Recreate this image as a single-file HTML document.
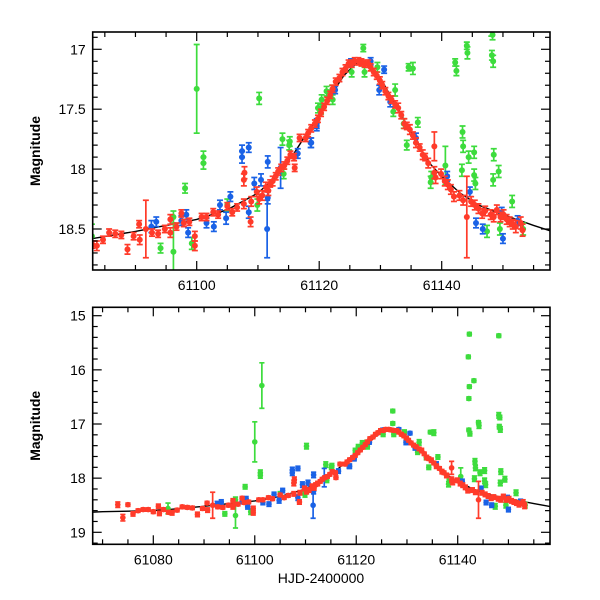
<!DOCTYPE html>
<html><head><meta charset="utf-8"><style>
html,body{margin:0;padding:0;background:#fff;width:600px;height:600px;overflow:hidden}
svg text{font-family:"Liberation Sans",sans-serif;fill:#000}
</style></head><body>
<svg id="chart" width="600" height="600" viewBox="0 0 600 600" xmlns="http://www.w3.org/2000/svg"></svg>
<script>
// ---- data ----
const modelT = [61065,61070,61075,61080,61083,61090,61095,61100,61105,61110,61113,61116,61118,61120,61122,61124,61126,61127,61128,61130,61132,61134,61136,61138,61140,61143,61146,61150,61155,61158,61162];
const modelM = [18.64,18.62,18.61,18.6,18.58,18.52,18.47,18.42,18.34,18.2,18.06,17.86,17.7,17.56,17.38,17.22,17.12,17.1,17.12,17.24,17.42,17.6,17.78,17.95,18.06,18.2,18.3,18.38,18.47,18.52,18.56];

const redT = [61073,61074,61075,61076,61077,61078,61079,61080,61081,61081.2,61082,61083,61083.7,61084.7,61085.7,61086.7,61087.7,61088.7,61089.7,61090.6,61090.7,61091.7,61092.7,61093.7,61094.8,61095.7,61095.7,61096.7,61097.5,61097.9,61098.8,61099.7,61099.7,61100.8,61101.6,61102.7,61103.5,61105,61105.8,61106.6,61107.7,61107.8,61107.7,61108.9,61108.8,61109.8,61110.7,61111.3,61112,61112.9,61113.8,61114.8,61115.9,61116,61116.8,61117.8,61118.7,61119.8,61120.8,61121.8,61122.7,61123.8,61124.8,61125.8,61126.9,61128,61128.9,61129.9,61130.8,61131.8,61132.9,61133.9,61134.8,61135.8,61136.9,61137.8,61138.8,61138.8,61139,61139.9,61141,61142,61142.9,61144.1,61144.8,61146,61147.1,61148,61149,61150.1,61151.1,61152.1,61152.9,61153.2,61118.2,61119.3,61120.3,61121.3,61122.2,61123.3,61124.3,61125.3,61126.4,61127.5,61128.4,61129.4,61130.3,61131.3,61132.4,61133.4,61134.3,61135.3,61136.4,61137.3,61140.5,61141.5,61143.5,61145.4,61146.6,61148.5,61149.6,61150.6,61151.6,61110.2,61111.7,61112.4,61113.3,61114.3,61115.3];
const redM = [18.49,18.73,18.49,18.66,18.6,18.58,18.58,18.62,18.52,18.65,18.58,18.63,18.64,18.59,18.53,18.54,18.55,18.67,18.56,18.46,18.59,18.5,18.53,18.54,18.5,18.42,18.53,18.48,18.37,18.45,18.44,18.56,18.64,18.4,18.4,18.36,18.38,18.31,18.36,18.32,18.29,18.03,18.09,18.27,18.44,18.19,18.22,18.15,18.12,18.06,17.99,17.93,17.9,17.99,17.74,17.74,17.66,17.58,17.48,17.38,17.27,17.19,17.12,17.1,17.11,17.12,17.19,17.26,17.35,17.42,17.49,17.62,17.67,17.78,17.88,17.95,17.81,18.03,18.07,18.04,18.13,18.23,18.22,18.4,18.27,18.33,18.35,18.38,18.34,18.38,18.44,18.48,18.45,18.51,17.7,17.62,17.53,17.43,17.33,17.24,17.16,17.12,17.1,17.12,17.15,17.22,17.3,17.39,17.46,17.55,17.64,17.72,17.82,17.9,18.1,18.17,18.26,18.3,18.37,18.4,18.4,18.42,18.46,18.25,18.18,18.1,18.02,17.97,17.88];
const redE = [0.05,0.06,0.03,0.04,0.03,0.03,0.03,0.03,0.04,0.04,0.03,0.03,0.04,0.03,0.03,0.03,0.03,0.04,0.03,0.03,0.04,0.24,0.03,0.03,0.03,0.04,0.04,0.03,0.03,0.03,0.03,0.04,0.04,0.03,0.03,0.03,0.03,0.03,0.03,0.03,0.04,0.05,0.05,0.04,0.04,0.04,0.04,0.04,0.03,0.03,0.03,0.03,0.03,0.03,0.03,0.03,0.03,0.03,0.03,0.03,0.03,0.03,0.03,0.03,0.03,0.03,0.03,0.03,0.03,0.03,0.04,0.04,0.04,0.04,0.04,0.04,0.12,0.05,0.05,0.04,0.04,0.04,0.04,0.34,0.04,0.04,0.04,0.04,0.04,0.04,0.04,0.05,0.05,0.05,0.03,0.03,0.03,0.03,0.03,0.03,0.03,0.03,0.03,0.03,0.03,0.03,0.03,0.03,0.03,0.03,0.03,0.03,0.03,0.03,0.04,0.04,0.04,0.04,0.04,0.04,0.04,0.04,0.04,0.04,0.04,0.04,0.03,0.03,0.03];

const blueT = [61092.6,61093.4,61097.5,61098.3,61098.6,61101.6,61102.8,61103.8,61104.8,61105.5,61107.4,61107.4,61108.5,61108.5,61109.4,61110.5,61111.6,61111.5,61111.6,61113.7,61116.5,61118.6,61119.6,61118.7,61119.6,61122.6,61125.2,61128.4,61129.8,61130.6,61131.6,61135.8,61140.9,61144.6,61145.6,61146.7,61149.8,61150,61152.4];
const blueM = [18.48,18.44,18.43,18.38,18.53,18.45,18.48,18.3,18.41,18.23,17.85,17.9,17.82,18.36,18.12,18.09,17.94,18.5,18.24,17.99,17.87,17.78,17.64,17.78,17.62,17.34,17.11,17.1,17.34,17.17,17.44,17.74,18.06,18.19,18.45,18.5,18.36,18.58,18.43];
const blueE = [0.05,0.04,0.04,0.04,0.04,0.04,0.04,0.04,0.05,0.04,0.05,0.05,0.04,0.05,0.05,0.05,0.05,0.24,0.05,0.17,0.04,0.04,0.04,0.04,0.04,0.03,0.03,0.03,0.04,0.03,0.04,0.04,0.04,0.04,0.04,0.04,0.04,0.04,0.04];

const greenT = [61082.9,61094.1,61096.2,61096.2,61098.1,61099.2,61100,61101.1,61101.1,61101.4,61105,61110.2,61109.9,61114,61115.1,61115.2,61114.2,61119.8,61120.4,61122.1,61120.3,61121.2,61122.2,61125.3,61127.2,61127.4,61129.5,61132.4,61132.1,61133.8,61134.3,61135.3,61136.1,61138.3,61138.2,61140.6,61142.4,61143.4,61143.5,61144.4,61143.3,61144.2,61145.3,61145.3,61145.5,61147.4,61148.3,61148.4,61148.5,61148.4,61149.3,61149.5,61151.5,61153.3,61142.3,61142.1,61142.3,61143.2,61142.2,61148.1,61148.1,61148.2,61144.1,61142.2,61127.2,61134.6];
const greenM = [18.56,18.66,18.69,18.4,18.16,18.62,17.33,17.9,17.95,16.29,18.3,17.41,18.3,17.75,17.8,17.77,18.04,17.49,17.42,17.34,17.5,17.35,17.42,17.19,16.99,17.19,17.15,17.34,17.52,17.62,17.8,17.16,17.61,18.07,18.11,17.97,17.18,17.69,17.81,17.9,18.01,17.03,17.86,18.05,18.12,18.52,16.88,17.1,17.88,18.09,18.02,18.5,18.27,18.5,15.34,15.76,16.31,16.2,16.53,15.37,16.84,17.05,16.97,17.11,16.76,17.15];
const greenE = [0.1,0.04,0.23,0.05,0.04,0.05,0.37,0.05,0.05,0.42,0.05,0.05,0.05,0.05,0.04,0.04,0.04,0.04,0.04,0.04,0.04,0.04,0.04,0.04,0.03,0.04,0.04,0.05,0.04,0.04,0.04,0.05,0.04,0.05,0.05,0.16,0.04,0.05,0.05,0.05,0.05,0.05,0.05,0.05,0.05,0.05,0.04,0.05,0.05,0.05,0.05,0.05,0.05,0.05,0.03,0.03,0.03,0.03,0.03,0.03,0.05,0.04,0.03,0.03,0.03,0.03];

const topXTicks = [61100,61120,61140];
const topYTicks = [17,17.5,18,18.5];
const botXTicks = [61080,61100,61120,61140];
const botYTicks = [15,16,17,18,19];

const NS = "http://www.w3.org/2000/svg";
const svg = document.getElementById('chart');
function mk(tag, attrs, parent){const e=document.createElementNS(NS,tag);for(const k in attrs)e.setAttribute(k,attrs[k]);(parent||svg).appendChild(e);return e;}

const panels = [
 {name:'top', x0:92.7,x1:550,y0:32,y1:270, t0:61082.8,t1:61157.9, ta:61100,xa:196.7,tb:61140,xb:441.7, ma:17,ya:49.3,mb:18.5,yb:229,
  xt:topXTicks, yt:topYTicks, xminor:5, yminor:0.1, r:3, cap:3},
 {name:'bottom', x0:92.7,x1:550,y0:307.3,y1:544.3, t0:61068,t1:61158.2, ta:61080,xa:153.3,tb:61140,xb:457.7, ma:15,ya:315.7,mb:19,yb:532.3,
  xt:botXTicks, yt:botYTicks, xminor:5, yminor:0.2, r:2.8, cap:2.6}
];

const colors = {green:'#3ddc3d', blue:'#1a62e6', red:'#ff3b2a'};

panels.forEach((p,pi)=>{
  const X = t => p.xa + (t-p.ta)*(p.xb-p.xa)/(p.tb-p.ta);
  const Y = m => p.ya + (m-p.ma)*(p.yb-p.ya)/(p.mb-p.ma);
  const mLo = p.ma + (p.y0-p.ya)*(p.mb-p.ma)/(p.yb-p.ya);
  const mHi = p.ma + (p.y1-p.ya)*(p.mb-p.ma)/(p.yb-p.ya);
  const g = mk('g',{});
  
  
  const cp = mk('clipPath',{id:'clip'+pi}, g);
  mk('rect',{x:p.x0,y:p.y0,width:p.x1-p.x0,height:p.y1-p.y0}, cp);
  const plot = mk('g',{'clip-path':'url(#clip'+pi+')'}, g);
  
  

  let d='';
  modelT.forEach((t,i)=>{d+=(i?'L':'M')+X(t).toFixed(1)+','+Y(modelM[i]).toFixed(1);});
  const ml = mk('path',{d:d,fill:'none',stroke:'#000','stroke-width':1.4}, plot);
  
  

  const series = [['green',greenT,greenM,greenE],['blue',blueT,blueM,blueE],['red',redT,redM,redE]];
  series.forEach(([nm,T,M,E])=>{
    const sg = mk('g',{stroke:colors[nm],fill:colors[nm]}, plot);
    
    
    T.forEach((t,i)=>{
      const x=X(t), y=Y(M[i]), ylo=Y(M[i]-E[i]), yhi=Y(M[i]+E[i]);
      const pt = mk('g',{}, sg);
      
      
      mk('line',{x1:x,x2:x,y1:ylo,y2:yhi,'stroke-width':1.7}, pt);
      mk('line',{x1:x-p.cap,x2:x+p.cap,y1:ylo,y2:ylo,'stroke-width':1.7}, pt);
      mk('line',{x1:x-p.cap,x2:x+p.cap,y1:yhi,y2:yhi,'stroke-width':1.7}, pt);
      mk('circle',{cx:x,cy:y,r:p.r,stroke:'none'}, pt);
    });
  });

  const fr = mk('rect',{x:p.x0,y:p.y0,width:p.x1-p.x0,height:p.y1-p.y0,fill:'none',stroke:'#000','stroke-width':1.6}, g);
  
  

  const tg = mk('g',{stroke:'#000','stroke-width':1.2}, g);
  
  
  for(let t=Math.ceil(p.t0/p.xminor)*p.xminor; t<=p.t1; t+=p.xminor){
    const major = Math.abs(t/20-Math.round(t/20))<1e-6;
    const L = major?9:5, x=X(t);
    mk('line',{x1:x,x2:x,y1:p.y1,y2:p.y1-L}, tg);
    mk('line',{x1:x,x2:x,y1:p.y0,y2:p.y0+L}, tg);
  }
  const majStep = p.yt[1]-p.yt[0];
  const nmin = Math.round(mLo/p.yminor), nmax = Math.round(mHi/p.yminor);
  for(let n=nmin; n<=nmax; n++){
    const m = n*p.yminor; const y=Y(m);
    if(y<p.y0-0.5||y>p.y1+0.5) continue;
    const major = Math.abs(m/majStep-Math.round(m/majStep))<1e-6;
    const L = major?9:5;
    mk('line',{x1:p.x0,x2:p.x0+L,y1:y,y2:y}, tg);
    mk('line',{x1:p.x1,x2:p.x1-L,y1:y,y2:y}, tg);
  }
  p.xt.forEach(t=>{
    const tx = mk('text',{x:X(t),y:p.y1+20,'text-anchor':'middle','font-size':14}, g);
    tx.textContent = String(t);
    
    
  });
  p.yt.forEach(m=>{
    const tx = mk('text',{x:p.x0-7,y:Y(m)+5,'text-anchor':'end','font-size':14}, g);
    tx.textContent = String(m);
    
    
  });
  const yc = (p.y0+p.y1)/2;
  const yt = mk('text',{x:0,y:0,transform:'translate(40,'+yc+') rotate(-90)','text-anchor':'middle','font-size':14,'font-weight':'bold'}, g);
  yt.textContent = 'Magnitude';
  
  
});
const xt = mk('text',{x:321,y:583,'text-anchor':'middle','font-size':14,'font-family':'Liberation Mono, monospace'});
xt.textContent = 'HJD-2400000';


</script>
</body></html>
